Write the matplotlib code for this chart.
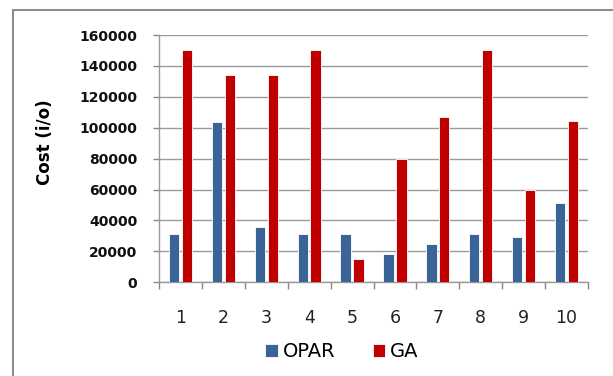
import numpy as np
import matplotlib.pyplot as plt
from matplotlib.patches import Rectangle

# data
cases = ['1', '2', '3', '4', '5', '6', '7', '8', '9', '10']
opar = [31000, 104000, 36000, 31000, 31000, 18000, 24500, 31000, 29000, 51000]
ga = [150000, 134000, 134000, 150000, 15000, 80000, 107000, 150000, 60000, 104500]

fig = plt.figure(figsize=(6.13, 3.76), dpi=100)
ax = fig.add_axes([0.2594, 0.2492, 0.6998, 0.6577])

x = np.arange(len(cases))
w = 0.24
ax.bar(x - 0.15, opar, w, color='#3A6496', edgecolor='white', linewidth=0.6,
       label='OPAR', zorder=3)
ax.bar(x + 0.15, ga, w, color='#C00000', edgecolor='white', linewidth=0.6,
       label='GA', zorder=3)

ax.set_xlim(-0.5, len(cases) - 0.5)
ax.set_ylim(0, 160000)
ax.set_yticks(np.arange(0, 160001, 20000))
ax.set_yticklabels([str(v) for v in range(0, 160001, 20000)],
                   fontsize=10, fontweight='bold', color='#111111')
ax.grid(axis='y', color='#9a9a9a', linewidth=1, zorder=0)

ax.set_xticks(x)
ax.set_xticklabels(cases, fontsize=12.5, color='#222222')
ax.set_xticks(np.arange(-0.5, len(cases)), minor=True)
ax.tick_params(axis='x', which='major', length=0, pad=19)
ax.tick_params(axis='x', which='minor', length=5, color='#888888', width=1)
ax.tick_params(axis='y', length=4, color='#888888', width=1, pad=11.5)

for s in ['top', 'right']:
    ax.spines[s].set_visible(False)
for s in ['left', 'bottom']:
    ax.spines[s].set_color('#999999')
    ax.spines[s].set_linewidth(1)

ax.set_ylabel('Cost (i/o)', fontsize=12, fontweight='bold')
ax.yaxis.set_label_coords(-0.245, 0.567)

fig.legend(loc='center', bbox_to_anchor=(0.558, 0.064), ncol=2, frameon=False,
           fontsize=14, handlelength=0.65, handleheight=0.65,
           handletextpad=0.26, columnspacing=1.9)

# outer chart border
fig.add_artist(Rectangle((13 / 613, -0.05), 1.0, 1 - 10 / 376 + 0.05,
                         transform=fig.transFigure, fill=False,
                         edgecolor='#8c8c8c', linewidth=1.5))

fig.savefig('out.png', dpi=100)
